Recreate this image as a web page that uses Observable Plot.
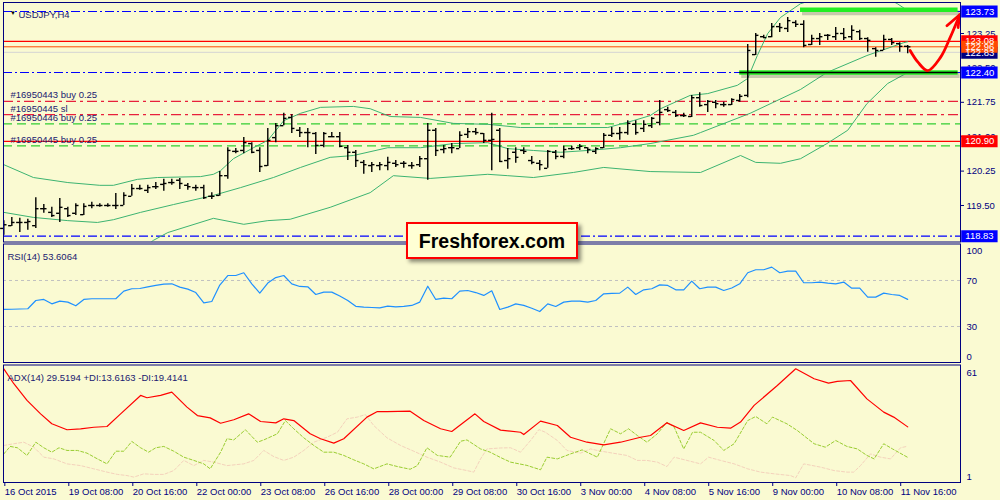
<!DOCTYPE html>
<html>
<head>
<meta charset="utf-8">
<script src="https://cdn.jsdelivr.net/npm/d3@7"></script>
<script src="https://cdn.jsdelivr.net/npm/@observablehq/plot@0.6"></script>
<style>
  body { margin: 0; background: #fafad2; }
  #chart { position: relative; width: 1000px; height: 500px; background: #fafad2; overflow: hidden; }
  #chart svg { display: block; }
  #logo {
    position: absolute; left: 406px; top: 222px; width: 168px; height: 33px;
    border: 2px solid #ff0000; background: #ffffd4;
    box-shadow: 3px 3px 4px rgba(0,0,0,0.45);
    font: bold 19.5px "Liberation Sans", Arial, sans-serif; color: #000;
    text-align: center; line-height: 34px; z-index: 2;
  }
</style>
</head>
<body>
<div id="chart"><div id="logo">Freshforex.com</div></div>
<script>
// USDJPY H4, 114 bars (16 Oct - 11 Nov 2015)
const barOpen = [119.00,119.06,119.13,119.13,119.06,119.43,119.35,119.33,119.43,119.33,
  119.30,119.50,119.50,119.50,119.50,119.50,119.70,119.87,119.83,119.91,
  119.96,120.00,120.05,119.94,119.89,119.89,119.70,119.72,120.15,120.68,
  120.70,120.85,120.70,120.37,120.98,121.24,121.42,121.14,121.09,121.07,
  120.81,121.00,121.00,120.76,120.66,120.44,120.37,120.37,120.37,120.42,
  120.42,120.37,120.39,120.52,121.14,120.72,120.76,120.74,121.05,121.11,
  121.07,120.92,121.14,120.48,120.66,120.70,120.48,120.42,120.31,120.66,
  120.57,120.74,120.76,120.76,120.68,120.76,121.03,121.07,121.09,121.27,
  121.18,121.24,121.31,121.59,121.53,121.46,121.44,121.85,121.70,121.75,
  121.70,121.70,121.79,121.90,122.79,123.18,123.18,123.40,123.36,123.49,
  123.45,123.01,123.14,123.21,123.18,123.25,123.18,123.29,123.14,122.92,
  122.88,123.12,123.03,122.97];
const barHigh = [119.17,119.24,119.22,119.20,119.67,119.52,119.46,119.65,119.46,119.54,
  119.54,119.57,119.54,119.54,119.76,119.78,119.96,119.94,119.94,120.00,
  120.07,120.07,120.09,119.98,119.94,119.94,119.78,120.24,120.76,120.74,
  120.98,120.87,120.76,121.18,121.29,121.51,121.48,121.20,121.18,121.09,
  121.09,121.09,121.09,120.81,120.70,120.48,120.44,120.44,120.55,120.48,
  120.46,120.44,120.57,121.29,121.18,120.81,120.85,121.11,121.18,121.18,
  121.07,121.51,121.18,120.74,120.76,120.76,120.57,120.48,120.70,120.70,
  120.79,120.79,120.83,120.76,120.76,121.07,121.20,121.20,121.35,121.35,
  121.35,121.42,121.79,121.64,121.57,121.51,121.90,121.96,121.79,121.79,
  121.75,121.83,121.92,123.01,123.25,123.21,123.47,123.47,123.60,123.53,
  123.53,123.21,123.25,123.23,123.38,123.36,123.42,123.32,123.16,122.94,
  123.21,123.14,123.05,122.99];
const barLow = [118.85,119.04,118.91,118.96,119.00,119.33,119.24,119.13,119.24,119.28,
  119.28,119.43,119.46,119.46,119.41,119.50,119.70,119.83,119.76,119.85,
  119.81,119.94,119.85,119.83,119.81,119.63,119.63,119.70,120.07,120.63,
  120.63,120.63,120.22,120.35,120.87,121.24,121.07,120.98,120.76,120.61,
  120.76,120.98,120.76,120.48,120.33,120.18,120.22,120.26,120.26,120.33,
  120.31,120.29,120.33,120.05,120.57,120.63,120.63,120.74,120.96,121.03,
  120.85,120.26,120.44,120.29,120.42,120.61,120.39,120.26,120.31,120.50,
  120.52,120.70,120.70,120.63,120.61,120.74,120.98,120.92,121.03,121.03,
  121.09,121.18,121.24,121.53,121.42,121.42,121.42,121.64,121.53,121.61,
  121.64,121.68,121.75,121.85,122.77,123.14,123.16,123.27,123.27,123.38,
  122.94,122.99,122.99,123.10,123.10,123.10,123.10,123.10,122.84,122.73,
  122.88,122.99,122.84,122.81];
const barClose = [119.08,119.13,119.13,119.15,119.43,119.43,119.28,119.46,119.28,119.50,
  119.48,119.50,119.50,119.50,119.50,119.72,119.87,119.87,119.89,119.91,
  119.98,120.00,119.98,119.91,119.89,119.67,119.70,120.15,120.70,120.68,
  120.87,120.66,120.35,120.92,121.24,121.40,121.18,121.09,121.09,120.81,
  121.07,121.00,120.79,120.66,120.48,120.39,120.39,120.39,120.44,120.39,
  120.42,120.37,120.52,121.14,120.70,120.74,120.76,121.03,121.11,121.09,
  120.92,120.94,120.46,120.52,120.55,120.68,120.44,120.39,120.68,120.57,
  120.72,120.74,120.79,120.72,120.74,121.03,121.07,121.09,121.29,121.09,
  121.27,121.40,121.53,121.57,121.46,121.46,121.85,121.68,121.77,121.72,
  121.70,121.81,121.88,122.88,123.21,123.16,123.40,123.38,123.53,123.45,
  122.99,123.14,123.18,123.21,123.25,123.16,123.32,123.14,123.10,122.88,
  123.12,123.05,122.97,122.96];

// Bollinger bands: [bar, price]
const bbUpper = [[0,120.39],[3.7,120.11],[8,120.00],[12,119.94],[13.7,119.94],[16.7,120.07],[19.2,120.11],
  [24.6,120.13],[26.2,120.18],[27.1,120.26],[28.7,120.52],[31.2,120.76],[33,120.92],[35,121.35],[37.1,121.51],
  [39.6,121.64],[43.7,121.66],[45.8,121.61],[48.3,121.44],[52.1,121.42],[56.2,121.29],[60.5,121.27],
  [64.6,121.20],[68.7,121.20],[75.5,121.20],[78.7,121.35],[80.8,121.46],[82.1,121.61],[85.8,121.90],
  [88,121.94],[91.7,122.12],[93,122.27],[94.2,122.77],[95.5,123.25],[97.1,123.60],[99.6,123.90],
  [105.8,124.23],[109.6,124.10],[111.7,123.90],[113,123.75]];
const bbMiddle = [[0,119.35],[3.7,119.24],[8,119.17],[11.7,119.13],[13.7,119.19],[17.1,119.35],[21.2,119.52],
  [26.2,119.72],[29.6,119.89],[33.7,120.11],[37.1,120.33],[40.8,120.55],[43.7,120.59],[48,120.76],
  [52.1,120.76],[56.2,120.85],[60.5,120.87],[63,120.74],[66.2,120.70],[69.6,120.66],[73,120.70],
  [77.1,120.76],[80.8,120.85],[86.2,121.03],[87.1,121.09],[93.3,121.51],[99.6,122.03],[102.9,122.40],
  [107.9,122.77],[112.5,123.05],[113,123.07]];
const bbLower = [[0,118.08],[12,118.26],[17.1,118.52],[18.7,118.74],[20.5,118.91],[26.2,119.22],[30,119.09],
  [33,119.17],[35.8,119.20],[40.8,119.46],[45.8,119.78],[48.7,120.15],[53.3,120.09],[60.5,120.18],
  [63,120.15],[66.2,120.11],[71.2,120.22],[75,120.33],[80.8,120.24],[87.1,120.22],[92.1,120.59],
  [94,120.44],[97.1,120.42],[99.6,120.52],[102.9,120.85],[105.5,121.14],[107.9,121.72],[110.5,122.16],
  [113,122.40]];

const rsi14 = [44.8,45.0,45.2,45.4,52.6,53.5,49.7,52.0,51.2,48.0,
  53.5,54.1,54.1,54.1,54.1,60.7,62.8,63.0,64.5,65.7,
  66.8,67.1,64.2,62.5,59.5,50.6,51.7,66.0,74.3,74.3,
  76.7,67.1,59.0,67.7,72.5,74.3,67.1,64.8,64.5,57.8,
  59.9,59.9,56.5,52.6,47.5,46.8,46.5,46.2,47.7,47.0,
  47.5,48.3,51.2,65.0,53.5,54.6,54.1,60.7,61.3,59.5,
  57.0,61.0,44.8,46.8,49.7,48.3,45.9,43.0,49.7,47.4,
  51.2,52.0,52.0,51.2,52.6,58.4,58.7,59.0,64.2,57.8,
  61.9,62.8,66.2,65.7,61.9,61.9,69.4,62.8,64.2,64.2,
  61.3,63.5,67.1,76.7,79.3,79.3,81.6,76.7,78.1,78.1,
  68.0,68.0,68.6,67.7,67.1,68.6,63.3,63.3,55.5,55.5,
  59.0,57.8,57.0,53.6];

// ADX(14) panel: [bar, value]
const adxMain = [[0,59.8],[1.25,52.0],[2.9,43.3],[4.6,36.3],[6,31.1],[7.9,28.0],[9.6,28.5],[11.25,29.3],
  [12.9,29.7],[14.6,36.3],[17.1,45.9],[17.9,44.7],[19.6,45.9],[21,47.6],[22.9,39.8],[24.2,35.4],
  [25.8,34.2],[27.1,31.4],[28.75,33.2],[30.6,36.3],[32.1,32.3],[34,31.6],[35,33.7],[36.25,32.8],
  [38.3,25.9],[39.6,23.3],[41.25,21.0],[42.5,23.3],[45.4,34.6],[46.7,37.5],[47.9,37.5],[50.8,37.7],
  [52.5,32.8],[54.6,28.5],[56,27.1],[58.9,36.3],[60,32.3],[62.1,27.8],[64.6,26.7],[65,25.5],
  [67.1,32.5],[69.2,30.2],[70.85,24.1],[72.9,21.5],[75,20.1],[77.1,21.5],[79.6,24.1],[80.85,25.0],
  [82.9,31.6],[85,27.6],[87.1,31.6],[89.2,29.3],[90.85,28.8],[92.1,32.0],[93.8,40.7],[96.7,51.1],
  [99,59.8],[101.3,54.6],[103.1,52.3],[104.2,53.2],[105.85,53.7],[107.9,44.1],[110,37.2],
  [111.25,34.6],[113,29.5]];
const plusDI = [[0,15.4],[0.8,19.3],[1.7,18.6],[2.9,14.6],[4,21.5],[5,18.6],[6,16.3],[6.9,18.6],[7.9,17.2],
  [9.2,17.2],[10.4,15.8],[11.7,12.8],[12.9,10.2],[14,16.8],[15,16.8],[16,21.9],[17.1,18.6],[18.1,16.3],
  [19,18.6],[20,19.3],[21.25,16.8],[22.5,13.7],[23.75,12.0],[25,10.2],[25.8,7.6],[27.1,16.3],[27.9,23.3],
  [28.75,22.7],[30.2,28.0],[31.7,21.5],[32.5,22.7],[34.2,25.9],[35.2,32.8],[36.25,28.5],[37.5,23.8],
  [38.75,19.8],[40,16.3],[41.25,16.3],[42.5,14.6],[43.75,12.3],[45,10.2],[46.25,7.6],[47.9,10.2],
  [49.2,8.8],[50.8,7.4],[51.7,9.3],[52.9,18.6],[54.2,14.6],[55.8,13.7],[57.1,22.0],[57.9,22.7],
  [59.6,18.0],[60.8,16.3],[62.1,13.5],[63.35,11.1],[65.4,9.4],[67.1,7.1],[67.9,13.7],[69.2,12.8],
  [70.85,15.4],[72.3,17.5],[74.2,13.7],[75.85,28.5],[77.1,25.9],[78.1,28.5],[79.2,25.0],[80.4,21.5],
  [81.7,25.9],[82.9,31.9],[83.8,29.4],[85,18.0],[86.1,26.7],[87.1,26.7],[88.8,22.4],[90,17.2],
  [91.3,20.7],[93,32.8],[94,34.9],[95.4,31.1],[96.1,34.6],[97.9,31.1],[99.2,27.6],[101.3,20.7],
  [102.7,18.9],[104,22.4],[105.4,19.3],[106.7,18.0],[107.9,14.6],[108.8,12.8],[110,20.7],[111.1,18.0],
  [113,13.6]];
const minusDI = [[0,19.8],[1.25,20.7],[2.5,21.5],[3.75,18.9],[5,13.7],[6.25,12.8],[7.9,10.2],[9.6,9.3],
  [11.25,7.6],[12.9,5.9],[14.2,4.7],[15.4,4.1],[16.25,3.3],[17.5,5.0],[18.75,4.7],[20,4.7],[21.25,6.7],
  [22.5,12.0],[23.75,9.3],[25,12.0],[26.25,11.1],[27.9,9.3],[30,10.2],[31.25,12.0],[32.5,17.2],
  [33.75,14.0],[35,12.0],[36.25,13.7],[37.5,17.2],[38.75,21.5],[40.4,24.1],[41.7,26.7],[42.9,33.7],
  [44.2,34.6],[45.2,35.9],[46.25,30.2],[47.9,23.8],[49.6,19.8],[51.25,16.8],[52.9,13.7],[54.6,11.1],
  [56.25,8.1],[57.9,6.7],[58.75,5.9],[59.6,12.8],[60.4,18.0],[62.1,18.5],[63.35,18.6],[64.6,16.3],
  [65.85,22.4],[66.9,28.1],[67.7,26.7],[69.2,22.4],[70.4,17.2],[72.1,15.8],[73.35,18.0],[74.2,17.2],
  [75.4,16.3],[76.7,15.4],[77.9,14.6],[79.2,12.0],[80.4,12.0],[81.7,11.1],[82.9,8.8],[83.8,13.7],
  [85.4,12.0],[87.1,10.2],[88.1,13.7],[89.6,12.0],[91.3,10.2],[93,7.6],[94.6,5.9],[96.3,5.0],
  [98.35,4.1],[99,2.9],[100,10.2],[102.1,8.5],[103.8,6.7],[105.4,5.9],[106.25,5.9],[107.1,9.3],
  [108.35,15.4],[109.6,13.7],[110.85,12.8],[112.1,18.6],[113,19.4]];

// axis ticks and labels
const timeTicks = [0, 8, 16, 24, 32, 40, 48, 56, 64, 72, 80, 88, 96, 104, 112];
const timeLabels = ["16 Oct 2015", "19 Oct 08:00", "20 Oct 16:00", "22 Oct 00:00", "23 Oct 08:00",
  "26 Oct 16:00", "28 Oct 00:00", "29 Oct 08:00", "30 Oct 16:00", "3 Nov 00:00", "4 Nov 08:00",
  "5 Nov 16:00", "9 Nov 00:00", "10 Nov 08:00", "11 Nov 16:00"];
const priceTicks = [123.25, 122.50, 121.75, 121.00, 120.25, 119.50];

// horizontal levels and right-axis price tags
const levelBlue = [123.73, 122.40, 118.83];
const levelRed = [123.08, 120.90];
const bidPrice = 122.96;
const askPrice = 122.84;
const tagPrices = [123.73, 122.83, 123.08, 122.96, 122.40, 120.90, 118.83];
const tagColors = ["#0000ff", "#000080", "#ff0000", "#ff4a00", "#0000ff", "#ff0000", "#0000ff"];
const orderTexts = ["#16950443 buy 0.25", "#16950445 sl", "#16950446 buy 0.25", "#16950445 buy 0.25"];
const orderPrices = [121.77, 121.48, 121.28, 120.80];
const slPrices = [121.77, 121.48];
const entryPrices = [121.28, 120.80];

// hand-drawn annotations: target zone and arrow
const zoneTop = {from: 99.6, to: 119.3, price: 123.77};
const zoneBottom = {from: 92.0, to: 119.3, price: 122.40};
const arrowPath = [[113.3,122.88],[114.3,122.62],[115.5,122.44],[117.1,122.73],[118.3,123.16],[119.2,123.53],[119.5,123.66]];
const arrowHead = [[117.9,123.42],[119.5,123.66],[119.3,123.38]];

const bars = barOpen.map((o, i) => ({i, open: o, high: barHigh[i], low: barLow[i], close: barClose[i]}));
const rsiRows = rsi14.map((v, i) => ({i, v}));

const FONT = "'Liberation Sans', Arial, sans-serif";
const NAVY = "#000080";
const xMax = 119.6;
const xCfg = {domain: [-0.04, xMax], axis: null};
const base = {width: 1000, marginLeft: 3, marginRight: 40,
  style: {background: "transparent", fontFamily: FONT, fontSize: "9.5px", overflow: "visible"}};

const tags = tagPrices.map((p, k) => ({p, k}));

const main = Plot.plot({
  ...base, height: 243, marginTop: 2, marginBottom: 1.5,
  x: xCfg,
  y: {domain: [118.704, 123.926], axis: null},
  marks: [
    Plot.ruleY([askPrice], {stroke: "#d4d4d4", strokeWidth: 1}),
    Plot.ruleY(levelBlue, {stroke: "#0000ff", strokeDasharray: "9,3,2,3", strokeWidth: 1.2}),
    Plot.ruleY(slPrices, {stroke: "#e8203c", strokeDasharray: "10,4,3,4", strokeWidth: 1.2}),
    Plot.ruleY(entryPrices, {stroke: "#32cd32", strokeDasharray: "9,5", strokeWidth: 1.2}),
    Plot.ruleY(levelRed, {stroke: "#ff0000", strokeWidth: 1.2}),
    Plot.ruleY([bidPrice], {stroke: "#ff4a00", strokeWidth: 1}),
    Plot.line(bbUpper, {x: d => d[0], y: d => d[1], stroke: "#3cb371", strokeWidth: 1, clip: true}),
    Plot.line(bbMiddle, {x: d => d[0], y: d => d[1], stroke: "#3cb371", strokeWidth: 1, clip: true}),
    Plot.line(bbLower, {x: d => d[0], y: d => d[1], stroke: "#3cb371", strokeWidth: 1, clip: true}),
    // target zone
    Plot.ruleY([zoneTop, zoneBottom], {y: "price", x1: "from", x2: "to", stroke: "#555", strokeOpacity: 0.3, strokeWidth: 5, dy: 3, dx: 2}),
    Plot.ruleY([zoneTop, zoneBottom], {y: "price", x1: "from", x2: "to", stroke: "#22ee22", strokeWidth: 4.5}),
    Plot.ruleY([zoneBottom], {y: "price", x1: "from", x2: "to", stroke: "#000", strokeWidth: 1.3}),
    // OHLC bars
    Plot.ruleX(bars, {x: "i", y1: "low", y2: "high", stroke: "#000", strokeWidth: 1.4}),
    Plot.ruleY(bars, {y: "open", x1: d => d.i - 0.4, x2: "i", stroke: "#000", strokeWidth: 1.4}),
    Plot.ruleY(bars, {y: "close", x1: "i", x2: d => d.i + 0.4, stroke: "#000", strokeWidth: 1.4}),
    // order labels
    Plot.text(orderTexts, {y: (d, k) => orderPrices[k], text: d => d, frameAnchor: "left", dx: 7, dy: -6,
      textAnchor: "start", fill: "#202070", fontSize: 9.5}),
    Plot.text(["USDJPY,H4"], {frameAnchor: "top-left", dx: 15, dy: 9, textAnchor: "start", fill: "#202070", fontSize: 9.5}),
    Plot.text(["\u25BC"], {frameAnchor: "top-left", dx: 6.5, dy: 8.5, fill: "#000", fontSize: 6}),
    // hand-drawn arrow
    Plot.line(arrowPath, {x: d => d[0], y: d => d[1], curve: "catmull-rom", stroke: "#ff0000", strokeWidth: 2.8}),
    Plot.line(arrowHead, {x: d => d[0], y: d => d[1], stroke: "#ff0000", strokeWidth: 2.8}),
    // right price axis
    Plot.axisY({anchor: "right", ticks: priceTicks, tickFormat: d => d.toFixed(2), tickSize: 3, tickPadding: 3,
      color: NAVY, fontSize: 9.5, label: null}),
    Plot.ruleY(tags, {y: "p", x1: xMax + 0.15, x2: xMax + 4.7, stroke: d => tagColors[d.k], strokeWidth: 12}),
    Plot.text(tags, {y: "p", x: xMax + 0.6, text: d => d.p.toFixed(2), fill: "#fff", textAnchor: "start", fontSize: 9.5}),
    Plot.frame({stroke: NAVY})
  ]
});

const rsiPanel = Plot.plot({
  ...base, height: 121, marginTop: 0.5, marginBottom: 2,
  x: xCfg,
  y: {domain: [-1.3, 101.7], axis: null},
  marks: [
    Plot.ruleY([70, 30], {stroke: "#c0c0c0", strokeDasharray: "3,3"}),
    Plot.line(rsiRows, {x: "i", y: "v", stroke: "#1e90ff", strokeWidth: 1.2}),
    Plot.text(["RSI(14) 53.6064"], {frameAnchor: "top-left", dx: 4, dy: 9, textAnchor: "start", fill: "#202070", fontSize: 9.5}),
    Plot.text([70, 30], {y: d => d, text: d => String(d), frameAnchor: "right", dx: 6, textAnchor: "start", fill: NAVY, fontSize: 9.5}),
    Plot.text([100], {y: d => d, text: d => String(d), frameAnchor: "right", dx: 6, dy: 5, textAnchor: "start", fill: NAVY, fontSize: 9.5}),
    Plot.text([0], {y: d => d, text: d => String(d), frameAnchor: "right", dx: 6, dy: -4, textAnchor: "start", fill: NAVY, fontSize: 9.5}),
    Plot.frame({stroke: NAVY})
  ]
});

const timeLabelAt = new Map(timeTicks.map((t, k) => [t, timeLabels[k]]));
const adxPanel = Plot.plot({
  ...base, height: 136, marginTop: 0.5, marginBottom: 18,
  x: xCfg,
  y: {domain: [0.48, 61.78], axis: null},
  marks: [
    Plot.line(minusDI, {x: d => d[0], y: d => d[1], stroke: "#f4d2bc", strokeWidth: 1, strokeDasharray: "3,2"}),
    Plot.line(plusDI, {x: d => d[0], y: d => d[1], stroke: "#9acd32", strokeWidth: 1, strokeDasharray: "3,2"}),
    Plot.line(adxMain, {x: d => d[0], y: d => d[1], stroke: "#ff0000", strokeWidth: 1.2}),
    Plot.text(["ADX(14) 29.5194 +DI:13.6163 -DI:19.4141"], {frameAnchor: "top-left", dx: 4, dy: 9.5,
      textAnchor: "start", fill: "#202070", fontSize: 9.5}),
    Plot.text([61], {y: d => d, text: d => String(d), frameAnchor: "right", dx: 6, dy: 6, textAnchor: "start", fill: NAVY, fontSize: 9.5}),
    Plot.text([1], {y: d => d, text: d => String(d), frameAnchor: "right", dx: 6, dy: -5, textAnchor: "start", fill: NAVY, fontSize: 9.5}),
    Plot.axisX({anchor: "bottom", ticks: timeTicks, tickFormat: d => timeLabelAt.get(d), tickSize: 4, tickPadding: 2,
      textAnchor: "start", dx: 1, color: NAVY, fontSize: 9.5, label: null}),
    Plot.frame({stroke: NAVY})
  ]
});

const holder = document.getElementById("chart");
holder.append(main, rsiPanel, adxPanel);
</script>
</body>
</html>
